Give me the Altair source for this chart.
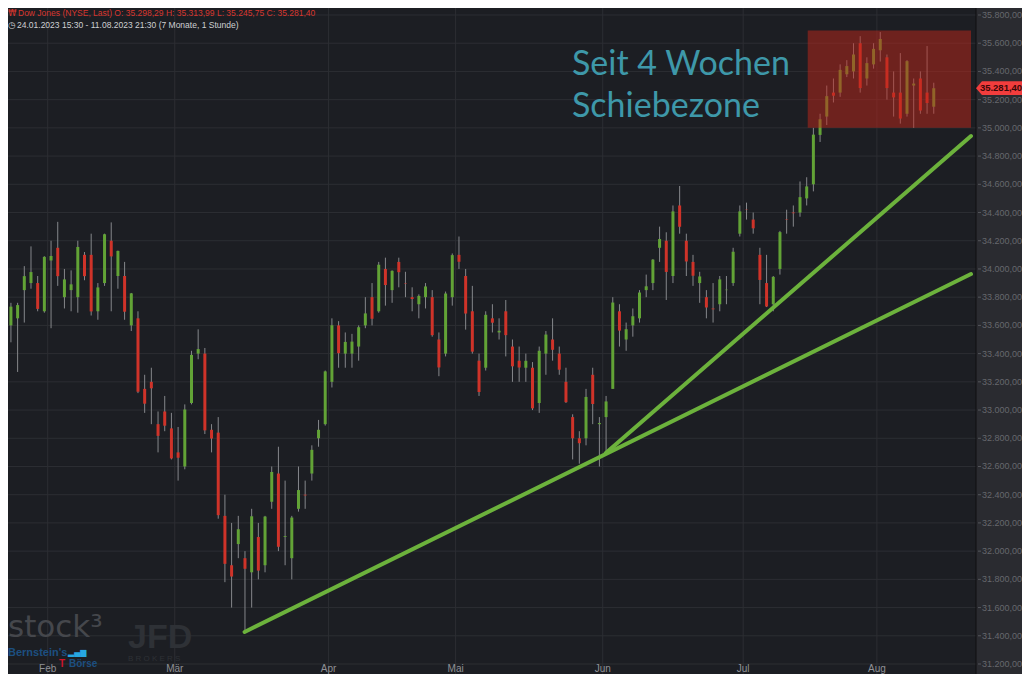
import altair as alt
import pandas as pd

# ---------------- data ----------------
dates = [
    "24.01", "25.01", "26.01", "27.01", "30.01", "31.01",
    "01.02", "02.02", "03.02", "06.02", "07.02", "08.02", "09.02", "10.02", "13.02", "14.02",
    "15.02", "16.02", "17.02", "21.02", "22.02", "23.02", "24.02", "27.02", "28.02",
    "01.03", "02.03", "03.03", "06.03", "07.03", "08.03", "09.03", "10.03", "13.03", "14.03",
    "15.03", "16.03", "17.03", "20.03", "21.03", "22.03", "23.03", "24.03", "27.03", "28.03",
    "29.03", "30.03", "31.03",
    "03.04", "04.04", "05.04", "06.04", "10.04", "11.04", "12.04", "13.04", "14.04", "17.04",
    "18.04", "19.04", "20.04", "21.04", "24.04", "25.04", "26.04", "27.04", "28.04",
    "01.05", "02.05", "03.05", "04.05", "05.05", "08.05", "09.05", "10.05", "11.05", "12.05",
    "15.05", "16.05", "17.05", "18.05", "19.05", "22.05", "23.05", "24.05", "25.05", "26.05",
    "30.05", "31.05",
    "01.06", "02.06", "05.06", "06.06", "07.06", "08.06", "09.06", "12.06", "13.06", "14.06",
    "15.06", "16.06", "20.06", "21.06", "22.06", "23.06", "26.06", "27.06", "28.06", "29.06",
    "30.06",
    "03.07", "05.07", "06.07", "07.07", "10.07", "11.07", "12.07", "13.07", "14.07", "17.07",
    "18.07", "19.07", "20.07", "21.07", "24.07", "25.07", "26.07", "27.07", "28.07", "31.07",
    "01.08", "02.08", "03.08", "04.08", "07.08", "08.08", "09.08", "10.08", "11.08",
]

opens = [
    33600, 33650, 33850, 33900, 33900, 33700,
    34060, 34150, 33800, 33850, 33800, 34100, 34100, 33700, 33900, 34200,
    33950, 33950, 33600, 33650, 33150, 33200, 32900, 32990, 32870,
    32700, 32600, 33050, 33400, 33400, 32860, 32840, 32250, 31900, 32050,
    31950, 31850, 32100, 31900, 32350, 32550, 32100, 31950, 32300, 32400,
    32550, 32800, 32900,
    33200, 33600, 33400, 33400, 33450, 33600, 33800, 33700, 34000, 33850,
    34050, 33900, 33800, 33750, 33800, 33800, 33500, 33400, 33800,
    34100, 33950, 33700, 33350, 33300, 33650, 33550, 33700, 33450, 33350,
    33300, 33300, 33050, 33400, 33500, 33400, 33200, 32950, 32800, 32800,
    33250, 32900,
    32950, 33150, 33700, 33500, 33600, 33650, 33850, 33900, 34150, 34200,
    33950, 34450, 34200, 34050, 33900, 33800, 33720, 33750, 33850, 33900,
    34250,
    34420, 34350, 34100, 33900, 33750, 34000, 34350, 34400, 34400, 34500,
    34600, 34950, 35080, 35250, 35250, 35380, 35400, 35600, 35350, 35450,
    35550, 35500, 35250, 35250, 35100, 35300, 35350, 35250, 35150,
]
highs = [
    33760, 33760, 34020, 34160, 33950, 34090,
    34200, 34334, 34000, 33990, 34200, 34120, 34250, 33900, 34250, 34330,
    34130, 34050, 33830, 33700, 33250, 33300, 32990, 33100, 32980,
    32880, 33040, 33420, 33572, 33440, 32900, 32950, 32400, 32200, 32250,
    32000, 32300, 32200, 32250, 32600, 32740, 32500, 32250, 32600, 32500,
    32750, 32930, 33280,
    33650, 33630, 33550, 33540, 33600, 33800, 33900, 34050, 34080, 33990,
    34080, 33980, 33870, 33820, 33900, 33850, 33550, 33840, 34110,
    34230, 34000, 33880, 33400, 33700, 33750, 33650, 33780, 33500, 33450,
    33400, 33340, 33450, 33560, 33650, 33450, 33300, 32970, 32850, 33150,
    33300, 32950,
    33100, 33800, 33750, 33620, 33720, 33850, 33960, 34070, 34300, 34260,
    34450, 34588, 34250, 34100, 33980, 33850, 33900, 33950, 33950, 34150,
    34450,
    34470, 34400, 34150, 34100, 33950, 34270, 34420, 34450, 34620, 34650,
    35000, 35100, 35300, 35350, 35450, 35480, 35600, 35650, 35500, 35600,
    35679, 35520, 35400, 35530, 35480, 35350, 35400, 35580, 35320,
]
lows = [
    33480, 33270, 33620, 33860, 33700, 33690,
    33580, 33880, 33720, 33700, 33690, 33920, 33670, 33640, 33880, 33700,
    33860, 33640, 33560, 33120, 32980, 32900, 32700, 32850, 32650,
    32500, 32580, 33040, 33360, 32830, 32700, 32230, 31780, 31600, 31950,
    31440, 31600, 31800, 31850, 32300, 32000, 31900, 31800, 32280, 32300,
    32500, 32740, 32890,
    33160, 33300, 33300, 33300, 33350, 33580, 33600, 33690, 33740, 33760,
    33870, 33800, 33700, 33650, 33720, 33520, 33240, 33380, 33740,
    34000, 33570, 33400, 33100, 33280, 33550, 33500, 33380, 33200, 33200,
    33200, 33000, 32980, 33250, 33350, 33250, 33050, 32650, 32620, 32750,
    32900, 32600,
    32700, 33150, 33450, 33420, 33520, 33620, 33800, 33850, 34050, 33780,
    33900, 34250, 33950, 33880, 33760, 33650, 33620, 33700, 33750, 33880,
    34230,
    34350, 34250, 33750, 33730, 33700, 33960, 34250, 34300, 34370, 34450,
    34550, 34900, 35020, 35180, 35220, 35360, 35350, 35250, 35300, 35420,
    35470, 35200, 35080, 35030, 35080, 35000, 35100, 35100, 35100,
]
closes = [
    33733, 33744, 33949, 33978, 33717, 34086,
    34092, 33949, 33926, 33891, 34156, 33949, 33699, 33869, 34246, 34089,
    34128, 33697, 33827, 33130, 33045, 33154, 32817, 32889, 32657,
    32662, 33004, 33391, 33432, 32856, 32798, 32255, 31910, 31820, 32155,
    31875, 32247, 31862, 32245, 32561, 32031, 32106, 32238, 32433, 32395,
    32718, 32860, 33274,
    33601, 33403, 33483, 33485, 33587, 33685, 33647, 34030, 33886, 33987,
    33977, 33897, 33787, 33809, 33876, 33531, 33302, 33826, 34098,
    34051, 33684, 33414, 33128, 33675, 33619, 33562, 33531, 33310, 33301,
    33349, 33012, 33420, 33535, 33427, 33286, 33056, 32800, 32765, 33093,
    33043, 32908,
    33061, 33762, 33563, 33573, 33665, 33833, 33877, 34066, 34212, 33979,
    34408, 34299, 34053, 33952, 33947, 33727, 33714, 33926, 33853, 34122,
    34408,
    34418, 34288, 33922, 33734, 33944, 34261, 34347, 34395, 34509, 34585,
    34952, 35061, 35225, 35228, 35411, 35438, 35520, 35282, 35459, 35560,
    35630, 35282, 35216, 35066, 35473, 35314, 35123, 35176, 35281,
]

month_names = ["Feb", "Mär", "Apr", "Mai", "Jun", "Jul", "Aug"]
month_idx = [6, 25, 48, 67, 89, 110, 130]          # trading-day index of month start
y_ticks = [31200, 31400, 31600, 31800, 32000, 32200, 32400, 32600, 32800, 33000,
           33200, 33400, 33600, 33800, 34000, 34200, 34400, 34600, 34800, 35000,
           35200, 35400, 35600, 35800]
y_tick_labels = ["31.200,00", "31.400,00", "31.600,00", "31.800,00", "32.000,00",
                 "32.200,00", "32.400,00", "32.600,00", "32.800,00", "33.000,00",
                 "33.200,00", "33.400,00", "33.600,00", "33.800,00", "34.000,00",
                 "34.200,00", "34.400,00", "34.600,00", "34.800,00", "35.000,00",
                 "35.200,00", "35.400,00", "35.600,00", "35.800,00"]

trend_name = ["a", "a", "b", "b"]
trend_t = [35.44, 144.07, 89.46, 144.07]
trend_price = [31427, 33964, 32696, 34942]

zone_t = [119.65]
zone_t2 = [144.07]
zone_low = [35000]
zone_high = [35690]

last_price = [35281.40]
last_label = ["35.281,40"]

note_lines = ["Seit 4 Wochen", "Schiebezone"]
note_t = [84.4, 84.4]
note_price = [35375, 35077]

# ---------------- layout ----------------
W, H = 968, 666
X_DOMAIN = [0.81, 144.07]
Y_DOMAIN = [31129.2, 35849.6]
xs = alt.Scale(domain=X_DOMAIN, nice=False, zero=False)
ys = alt.Scale(domain=Y_DOMAIN, nice=False, zero=False)

BG_PLOT = "#1c1e23"
BG_AXIS = "#2a2b30"
GRID = "#2c2e33"
GREEN = "#62a336"
RED = "#cf3329"
WICK = "#85878b"

candles = pd.DataFrame({
    "date": dates, "open": opens, "high": highs, "low": lows, "close": closes,
})
candles["t"] = [i + 0.5 for i in range(len(candles))]
candles["dir"] = ["up" if c >= o else "down" for o, c in zip(opens, closes)]

# grid lines, axis ticks and labels
ytick_df = pd.DataFrame({"v": y_ticks, "label": y_tick_labels})
hgrid = alt.Chart(ytick_df).mark_rule(color=GRID, strokeWidth=1).encode(
    y=alt.Y("v:Q", scale=ys, axis=None), x=alt.value(0), x2=alt.value(W))
yticks = alt.Chart(ytick_df).mark_rule(color="#55575c", strokeWidth=1).encode(
    y=alt.Y("v:Q", scale=ys, axis=None), x=alt.value(W + 2), x2=alt.value(W + 5))
ylabels = alt.Chart(ytick_df).mark_text(align="left", baseline="middle", font="Liberation Sans",
                                        fontSize=9, color="#66686d").encode(
    y=alt.Y("v:Q", scale=ys, axis=None), x=alt.value(W + 6), text="label:N")

months_df = pd.DataFrame({"name": month_names, "t": month_idx})
vgrid = alt.Chart(months_df).mark_rule(color=GRID, strokeWidth=1).encode(
    x=alt.X("t:Q", scale=xs, axis=None), y=alt.value(0), y2=alt.value(H))
months = alt.Chart(months_df).mark_text(align="center", baseline="alphabetic", font="Liberation Sans",
                                        fontSize=10, color="#8f9196").encode(
    x=alt.X("t:Q", scale=xs, axis=None), y=alt.value(H - 2), text="name:N")

border = alt.Chart(pd.DataFrame({"k": [0]})).mark_rule(color="#0e0f11", strokeWidth=1).encode(
    x=alt.value(W), y=alt.value(0), y2=alt.value(H))

base = alt.Chart(candles)
wicks = base.mark_rule(color=WICK, strokeWidth=1, clip=True).encode(
    x=alt.X("t:Q", scale=xs, axis=None),
    y=alt.Y("low:Q", scale=ys, axis=None),
    y2="high:Q",
)
bodies = base.mark_bar(size=3, clip=True).encode(
    x=alt.X("t:Q", scale=xs, axis=None),
    y=alt.Y("open:Q", scale=ys, axis=None),
    y2="close:Q",
    color=alt.Color("dir:N", scale=alt.Scale(domain=["up", "down"], range=[GREEN, RED]), legend=None),
)

trend_df = pd.DataFrame({"line": trend_name, "t": trend_t, "price": trend_price})
trends = alt.Chart(trend_df).mark_line(color="#6cb23c", strokeWidth=4, strokeCap="round", clip=True).encode(
    x=alt.X("t:Q", scale=xs, axis=None),
    y=alt.Y("price:Q", scale=ys, axis=None),
    detail="line:N",
)

zone_df = pd.DataFrame({"t": zone_t, "t2": zone_t2, "lo": zone_low, "hi": zone_high})
zone = alt.Chart(zone_df).mark_rect(color="#c0261a", opacity=0.5, clip=True).encode(
    x=alt.X("t:Q", scale=xs, axis=None), x2="t2:Q",
    y=alt.Y("lo:Q", scale=ys, axis=None), y2="hi:Q",
)

note_df = pd.DataFrame({"text": note_lines, "t": note_t, "price": note_price})
notes = alt.Chart(note_df).mark_text(align="left", baseline="alphabetic", font="Lato",
                                     fontSize=34, color="#3e98a9").encode(
    x=alt.X("t:Q", scale=xs, axis=None),
    y=alt.Y("price:Q", scale=ys, axis=None),
    text="text:N",
)

last_df = pd.DataFrame({"price": last_price, "label": last_label})
tag = alt.Chart(last_df).mark_point(
    shape="M-1,0L-0.74,-0.3L1,-0.3L1,0.3L-0.74,0.3Z", size=2116, filled=True,
    fill="#f23d3d", opacity=1, strokeWidth=0,
).encode(x=alt.value(W + 23), y=alt.Y("price:Q", scale=ys, axis=None))
tag_text = alt.Chart(last_df).mark_text(align="center", baseline="middle", font="Liberation Sans",
                                        fontSize=9.5, fontWeight="bold", color="#3a0808").encode(
    x=alt.value(W + 25), y=alt.Y("price:Q", scale=ys, axis=None), text="label:N")


def label(text, x, y, size, color, font="Liberation Sans", weight="normal"):
    return alt.Chart(pd.DataFrame({"text": [text]})).mark_text(
        align="left", baseline="alphabetic", fontSize=size, font=font,
        fontWeight=weight, color=color,
    ).encode(x=alt.value(x), y=alt.value(y), text="text:N")


header = [
    label("₩", 0, 7.5, 8.5, "#d8362e", font="DejaVu Sans"),
    label("Dow Jones (NYSE, Last)  O: 35.298,29  H: 35.313,99  L: 35.245,75  C: 35.281,40",
          10, 7.5, 8.5, "#d8362e"),
    label("◷", 0, 19.5, 9, "#cfd0d2", font="DejaVu Sans"),
    label("24.01.2023 15:30 - 11.08.2023 21:30   (7 Monate, 1 Stunde)", 9, 19.5, 8.5, "#cfd0d2"),
]

logos = [
    label("stock³", 0, 629, 31, "#45474c", font="DejaVu Sans"),
    label("JFD", 120, 640, 34, "#2e3136", weight="bold"),
    label("B R O K E R S", 120, 653, 8, "#2e3136"),
    label("Bernstein's", 0, 648, 11, "#1c4f80", weight="bold"),
    label("▂▄▆", 60, 647, 8, "#27a7e0", font="DejaVu Sans"),
    label("T", 51, 659, 10, "#d0142c", weight="bold"),
    label("Börse", 61, 659, 10, "#1c4f80", weight="bold"),
]

chart = alt.layer(
    hgrid, vgrid, *logos, wicks, bodies, trends, zone, notes, months, border,
    yticks, ylabels, tag, tag_text, *header,
).properties(
    width=W, height=H,
    background=BG_AXIS,
    autosize=alt.AutoSizeParams(type="none"),
    padding={"left": 0, "top": 0, "right": 46, "bottom": 0},
).configure_view(fill=BG_PLOT, strokeWidth=0)

chart.save("out.html", embed_options={"renderer": "svg", "actions": False})
